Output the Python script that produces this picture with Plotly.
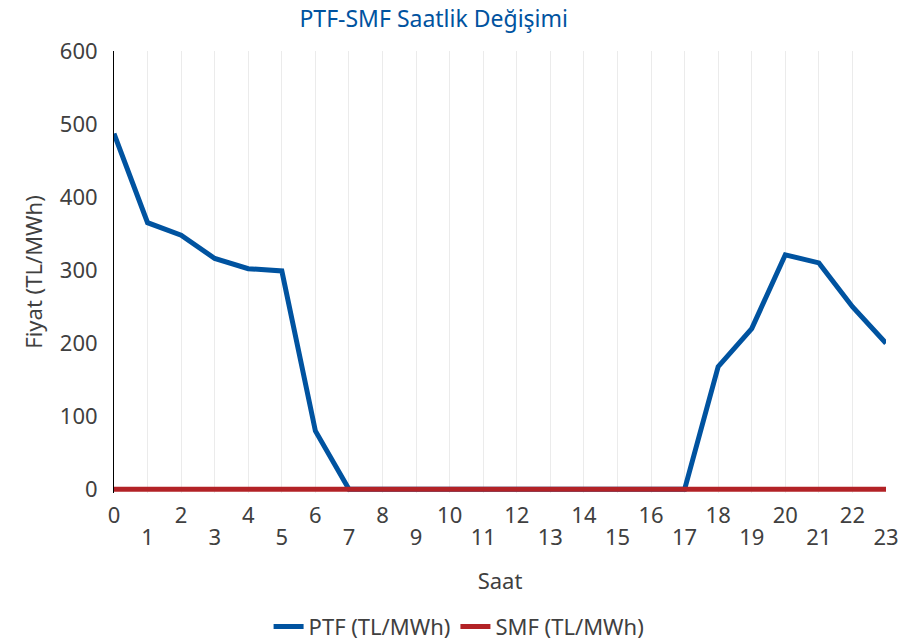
import plotly.graph_objects as go

hours = list(range(24))
ptf = [487, 365, 348, 316, 302, 299, 80, 0, 0, 0, 0, 0, 0, 0, 0, 0, 0, 0,
       168, 220, 321, 310, 250, 200]
smf = [0] * 24
even_hours = [h for h in hours if h % 2 == 0]
odd_hours = [h for h in hours if h % 2 == 1]

font = "Noto Sans, Open Sans, sans-serif"

fig = go.Figure()
# invisible trace so the second x axis (odd hour labels + grid) is drawn
fig.add_trace(go.Scatter(x=odd_hours, y=[None] * len(odd_hours), xaxis="x2",
                         showlegend=False, hoverinfo="skip"))
fig.add_trace(go.Scatter(x=hours, y=ptf, mode="lines", name="PTF (TL/MWh)",
                         line=dict(color="#0053A0", width=5)))
fig.add_trace(go.Scatter(x=hours, y=smf, mode="lines", name="SMF (TL/MWh)",
                         line=dict(color="#B22226", width=5)))

fig.update_layout(
    width=898, height=642,
    paper_bgcolor="white", plot_bgcolor="white",
    font=dict(family=font, size=22, color="#404040"),
    title=dict(text="PTF-SMF Saatlik Değişimi", x=0.483, xanchor="center",
               y=0.97, yref="container", yanchor="middle",
               font=dict(family=font, size=23, color="#0053A0")),
    margin=dict(l=114, r=12, t=51, b=149, autoexpand=False),
    showlegend=True,
    legend=dict(orientation="h", x=0.447, xanchor="center", y=0.024, yref="container",
                yanchor="middle", font=dict(size=22, color="#404040")),
    xaxis=dict(
        range=[0, 23], tickmode="array", tickvals=even_hours,
        showgrid=False, showline=False, zeroline=False, ticks="",
        ticklabelstandoff=7, automargin=False, ticklabeloverflow="allow",
    ),
    xaxis2=dict(
        range=[0, 23], tickmode="array", tickvals=hours,
        ticktext=[str(h) if h % 2 == 1 else "" for h in hours],
        overlaying="x", side="bottom", anchor="y",
        showgrid=True, gridcolor="#EBEBEB", gridwidth=1,
        showline=False, zeroline=False, ticks="",
        ticklabelstandoff=29, automargin=False, ticklabeloverflow="allow",
        title=dict(text="Saat", standoff=23, font=dict(size=22)),
    ),
    yaxis=dict(
        range=[-5, 600], dtick=100, showgrid=False, zeroline=False,
        showline=True, linecolor="black", linewidth=1, ticks="",
        ticklabelstandoff=11, automargin=False,
        title=dict(text="Fiyat (TL/MWh)", standoff=11, font=dict(size=22)),
    ),
)

# drop the default 8px page margin so the figure fills the window exactly
fig.write_html("out.html", config={"displayModeBar": False},
               post_script="document.body.style.margin='0';document.body.style.overflow='hidden';")
